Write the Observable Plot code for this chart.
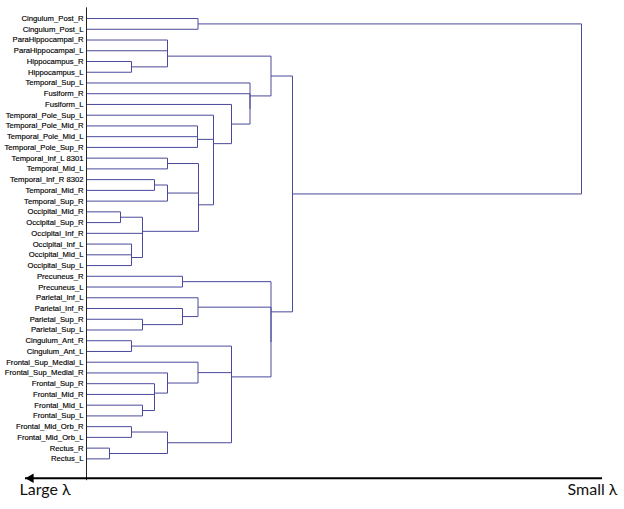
<!DOCTYPE html>
<html>
<head>
<meta charset="utf-8">
<script src="https://cdn.jsdelivr.net/npm/d3@7"></script>
<script src="https://cdn.jsdelivr.net/npm/@observablehq/plot@0.6"></script>
<style>
  html, body { margin: 0; padding: 0; background: #fff; }
  svg { display: block; }
</style>
</head>
<body>
<div id="chart"></div>
<script>
// Leaves, top to bottom
const leafNames = [
  "Cingulum_Post_R", "Cingulum_Post_L", "ParaHippocampal_R", "ParaHippocampal_L",
  "Hippocampus_R", "Hippocampus_L", "Temporal_Sup_L", "Fusiform_R", "Fusiform_L",
  "Temporal_Pole_Sup_L", "Temporal_Pole_Mid_R", "Temporal_Pole_Mid_L", "Temporal_Pole_Sup_R",
  "Temporal_Inf_L 8301", "Temporal_Mid_L", "Temporal_Inf_R 8302", "Temporal_Mid_R",
  "Temporal_Sup_R", "Occipital_Mid_R", "Occipital_Sup_R", "Occipital_Inf_R",
  "Occipital_Inf_L", "Occipital_Mid_L", "Occipital_Sup_L", "Precuneus_R", "Precuneus_L",
  "Parietal_Inf_L", "Parietal_Inf_R", "Parietal_Sup_R", "Parietal_Sup_L",
  "Cingulum_Ant_R", "Cingulum_Ant_L", "Frontal_Sup_Medial_L", "Frontal_Sup_Medial_R",
  "Frontal_Sup_R", "Frontal_Mid_R", "Frontal_Mid_L", "Frontal_Sup_L",
  "Frontal_Mid_Orb_R", "Frontal_Mid_Orb_L", "Rectus_R", "Rectus_L"
];

// Merges: [node id, child A, child B, merge height (distance from leaves)]
const merges = [
  ["hippo", "Hippocampus_R", "Hippocampus_L", 45],
  ["paraH", "ParaHippocampal_R", "ParaHippocampal_L", 81],
  ["paraHippo", "paraH", "hippo", 81],
  ["poleMid", "Temporal_Pole_Mid_R", "Temporal_Pole_Mid_L", 111],
  ["pole", "poleMid", "Temporal_Pole_Sup_R", 111],
  ["tInfL", "Temporal_Inf_L 8301", "Temporal_Mid_L", 81],
  ["tInfR", "Temporal_Inf_R 8302", "Temporal_Mid_R", 68],
  ["tInfRS", "tInfR", "Temporal_Sup_R", 81],
  ["temporal", "tInfL", "tInfRS", 112],
  ["occR", "Occipital_Mid_R", "Occipital_Sup_R", 34],
  ["occL1", "Occipital_Inf_L", "Occipital_Mid_L", 45],
  ["occL", "occL1", "Occipital_Sup_L", 45],
  ["occIL", "Occipital_Inf_R", "occL", 56],
  ["occ", "occR", "occIL", 56],
  ["tempOcc", "temporal", "occ", 112],
  ["poleTO", "pole", "tempOcc", 127],
  ["poleSupL", "Temporal_Pole_Sup_L", "poleTO", 127],
  ["fusL", "Fusiform_L", "poleSupL", 145],
  ["fusR", "Fusiform_R", "fusL", 163.5],
  ["tSupL", "Temporal_Sup_L", "fusR", 163.5],
  ["upper", "paraHippo", "tSupL", 184.5],
  ["prec", "Precuneus_R", "Precuneus_L", 96],
  ["parSup", "Parietal_Sup_R", "Parietal_Sup_L", 56],
  ["parInfR", "Parietal_Inf_R", "parSup", 96],
  ["parietal", "Parietal_Inf_L", "parInfR", 111.5],
  ["cingA", "Cingulum_Ant_R", "Cingulum_Ant_L", 45],
  ["fMidSupL", "Frontal_Mid_L", "Frontal_Sup_L", 56],
  ["fMid", "Frontal_Mid_R", "fMidSupL", 68],
  ["fSup", "Frontal_Sup_R", "fMid", 68],
  ["fMedR", "Frontal_Sup_Medial_R", "fSup", 81],
  ["fMedL", "Frontal_Sup_Medial_L", "fMedR", 111.5],
  ["orb", "Frontal_Mid_Orb_R", "Frontal_Mid_Orb_L", 45],
  ["rectus", "Rectus_R", "Rectus_L", 23],
  ["orbRect", "orb", "rectus", 81],
  ["frontalB", "fMedL", "orbRect", 145],
  ["frontal", "cingA", "frontalB", 145],
  ["parFront", "parietal", "frontal", 184.5],
  ["lower", "prec", "parFront", 184.5],
  ["main", "upper", "lower", 206],
  ["cingP", "Cingulum_Post_R", "Cingulum_Post_L", 111.5],
  ["root", "cingP", "main", 495]
];

const axisLabels = ["Large λ", "Small λ"];

// ---- build dendrogram segments ----
const pos = new Map(leafNames.map((n, i) => [n, {y: i, h: 0}]));
const segments = [];
for (const [id, a, b, h] of merges) {
  const A = pos.get(a), B = pos.get(b);
  segments.push({x1: A.h, x2: h, y1: A.y, y2: A.y});
  segments.push({x1: B.h, x2: h, y1: B.y, y2: B.y});
  segments.push({x1: h, x2: h, y1: A.y, y2: B.y});
  pos.set(id, {y: (A.y + B.y) / 2, h});
}
const leaves = leafNames.map((name, i) => ({name, i}));

const xDom = [-61, 516];
const yDom = [-1, leafNames.length + 0.8];
const lineColor = "#4a4a9c";

const chart = Plot.plot({
  width: 624,
  height: 509,
  marginLeft: 25,
  marginRight: 22,
  marginTop: 7.3,
  marginBottom: 31.3,
  x: {domain: xDom, axis: null},
  y: {domain: yDom, reverse: true, axis: null},
  style: {background: "#fff"},
  marks: [
    Plot.link(segments, {x1: "x1", y1: "y1", x2: "x2", y2: "y2", stroke: lineColor, strokeWidth: 1}),
    Plot.ruleX([0], {y1: yDom[0], y2: yDom[1], stroke: "#222", strokeWidth: 1, insetBottom: -2.5}),
    Plot.text(leaves, {
      x: () => 0, y: "i", text: "name", textAnchor: "end", dx: -3,
      fontSize: 7.7, fontFamily: "Liberation Sans, Arial, sans-serif", fill: "#000",
      stroke: "#000", strokeWidth: 0.15
    }),
    Plot.ruleY([yDom[1]], {stroke: "#000", strokeWidth: 2}),
    Plot.dot([xDom[0]], {x: d => d, y: () => yDom[1], symbol: "triangle", r: 3.5, rotate: -90, fill: "#000", stroke: "none", dx: 5.4}),
    Plot.text([axisLabels[0]], {frameAnchor: "bottom-left", text: d => d, textAnchor: "start", dx: -6, dy: 17, fontSize: 16, fontFamily: "Lato, sans-serif", fill: "#111"}),
    Plot.text([axisLabels[1]], {frameAnchor: "bottom-right", text: d => d, textAnchor: "end", dx: 15, dy: 17, fontSize: 16, fontFamily: "Lato, sans-serif", fill: "#111"})
  ]
});
document.getElementById("chart").append(chart);
</script>
</body>
</html>
